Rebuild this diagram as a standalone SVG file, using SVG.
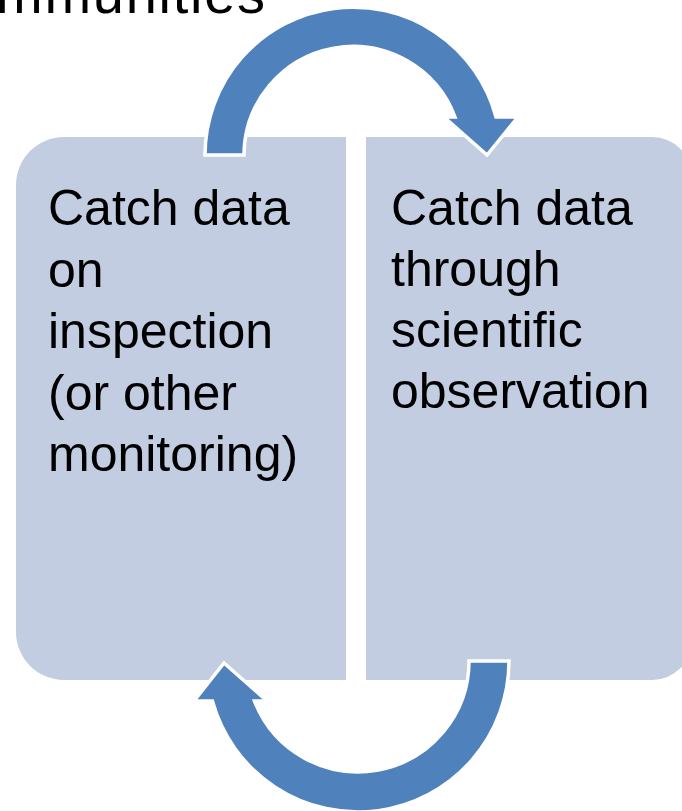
<svg xmlns="http://www.w3.org/2000/svg" width="682" height="811" viewBox="0 0 682 811">
  <style>
    .box { fill: #C2CDE2; }
    .label { font-family: "Liberation Sans", Arial, sans-serif; font-size: 50px; fill: #000000; }
    .title { font-family: "Liberation Sans", Arial, sans-serif; font-size: 56px; fill: #000000; }
    .arrow { fill: #4F81BD; stroke: #FFFFFF; stroke-width: 3.5; stroke-linejoin: miter; }
  </style>
  <rect width="682" height="811" fill="#FFFFFF"/>

  <!-- heading, clipped at the top edge -->
  <text class="title" x="-4" y="12.5" textLength="269" lengthAdjust="spacing">mmunities</text>

  <!-- left panel -->
  <g id="node-inspection">
    <path class="box" d="M64,137 H346 V680 H64 A48,48 0 0 1 16,632 V185 A48,48 0 0 1 64,137 Z"/>
    <text class="label" x="48">
      <tspan x="48" y="225">Catch data</tspan>
      <tspan x="48" y="286.5">on</tspan>
      <tspan x="48" y="348">inspection</tspan>
      <tspan x="48" y="409.5">(or other</tspan>
      <tspan x="48" y="471">monitoring)</tspan>
    </text>
  </g>

  <!-- right panel -->
  <g id="node-observation">
    <path class="box" d="M366,137 H652 A40,40 0 0 1 692,177 V640 A40,40 0 0 1 652,680 H366 Z"/>
    <text class="label" x="391">
      <tspan x="391" y="225">Catch data</tspan>
      <tspan x="391" y="286">through</tspan>
      <tspan x="391" y="347">scientific</tspan>
      <tspan x="391" y="408">observation</tspan>
    </text>
  </g>

  <!-- circular arrows linking the two panels -->
  <g id="connectors">
    <path id="arrow-top" class="arrow"
          d="M205,155 A148,148 0 0 1 496,117 L518,117 L487,155 L444,117 L455,117 A109,109 0 0 0 244,155 Z"/>
    <path id="arrow-bottom" class="arrow"
          d="M509,661 A151,151 0 0 1 212.4,701 L194,701 L224,663 L267,701 L254.5,701 A111,111 0 0 0 469,661 Z"/>
  </g>
</svg>
